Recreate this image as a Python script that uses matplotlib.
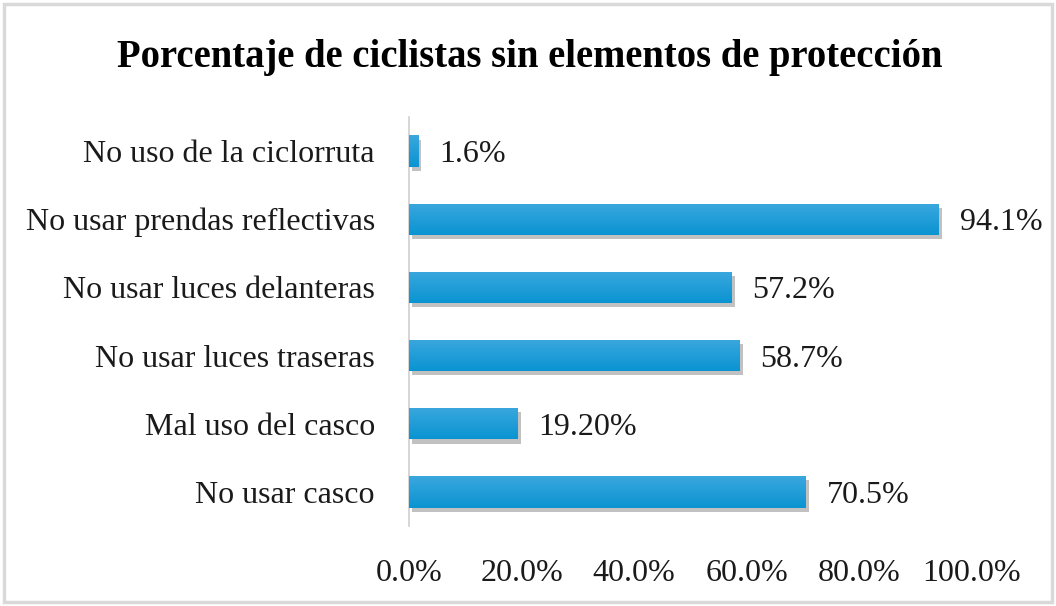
import matplotlib
matplotlib.use("Agg")
import matplotlib.pyplot as plt
import matplotlib.patheffects as pe
from matplotlib.patches import Rectangle
from matplotlib.colors import LinearSegmentedColormap
import numpy as np

categories = ["No usar casco", "Mal uso del casco", "No usar luces traseras",
              "No usar luces delanteras", "No usar prendas reflectivas",
              "No uso de la ciclorruta"]
values = [70.5, 19.2, 58.7, 57.2, 94.1, 1.6]
value_labels = ["70.5%", "19.20%", "58.7%", "57.2%", "94.1%", "1.6%"]
xticks = [0, 20, 40, 60, 80, 100]
xtick_labels = ["0.0%", "20.0%", "40.0%", "60.0%", "80.0%", "100.0%"]
title = "Porcentaje de ciclistas sin elementos de protección"

plt.rcParams['font.family'] = ['Liberation Serif', 'DejaVu Serif']

fig = plt.figure(figsize=(10.56, 6.06), dpi=100)
fig.patches.append(Rectangle((0.004, 0.006), 0.992, 0.988, transform=fig.transFigure,
                             fill=False, edgecolor='#d9d9d9', linewidth=2.5))
ax = fig.add_axes([0.3873, 0.132, 0.5332, 0.675])

bar_h = 0.46
bars = ax.barh(range(len(categories)), values, height=bar_h, color='#1a9bd7',
               zorder=3)
grad = np.linspace(0, 1, 64).reshape(-1, 1)
cmap = LinearSegmentedColormap.from_list('g', ['#0a94d2', '#3aa7de'])
for b in bars:
    b.set_path_effects([pe.SimplePatchShadow(offset=(2.5, -3), shadow_rgbFace='#333333', alpha=0.3),
                        pe.Normal()])
    x0, y0 = b.get_x(), b.get_y()
    w, h = b.get_width(), b.get_height()
    im = ax.imshow(grad, extent=[x0, x0 + w, y0, y0 + h], origin='lower',
                   cmap=cmap, aspect='auto', zorder=4)
    im.set_clip_path(b)

for i, (v, lab) in enumerate(zip(values, value_labels)):
    ax.text(v + 3.7, i, lab, va='center_baseline', ha='left', fontsize=23, color='#1a1a1a')

ax.set_xlim(0, 100)
ax.set_ylim(-0.5, len(categories) - 0.5)
ax.set_yticks(range(len(categories)))
ax.set_yticklabels(categories, fontsize=23, color='#1a1a1a')
ax.set_xticks(xticks)
ax.set_xticklabels(xtick_labels, fontsize=23, color='#1a1a1a')
ax.tick_params(axis='y', length=0, pad=24.5)
ax.tick_params(axis='x', length=0, pad=24)
for s in ['top', 'right', 'bottom']:
    ax.spines[s].set_visible(False)
ax.spines['left'].set_color('#d0d0d0')
ax.spines['left'].set_linewidth(1.2)

fig.text(0.502, 0.905, title, ha='center', va='center', fontsize=27.8,
         fontweight='bold', color='black')

fig.savefig("out.png", dpi=100)
